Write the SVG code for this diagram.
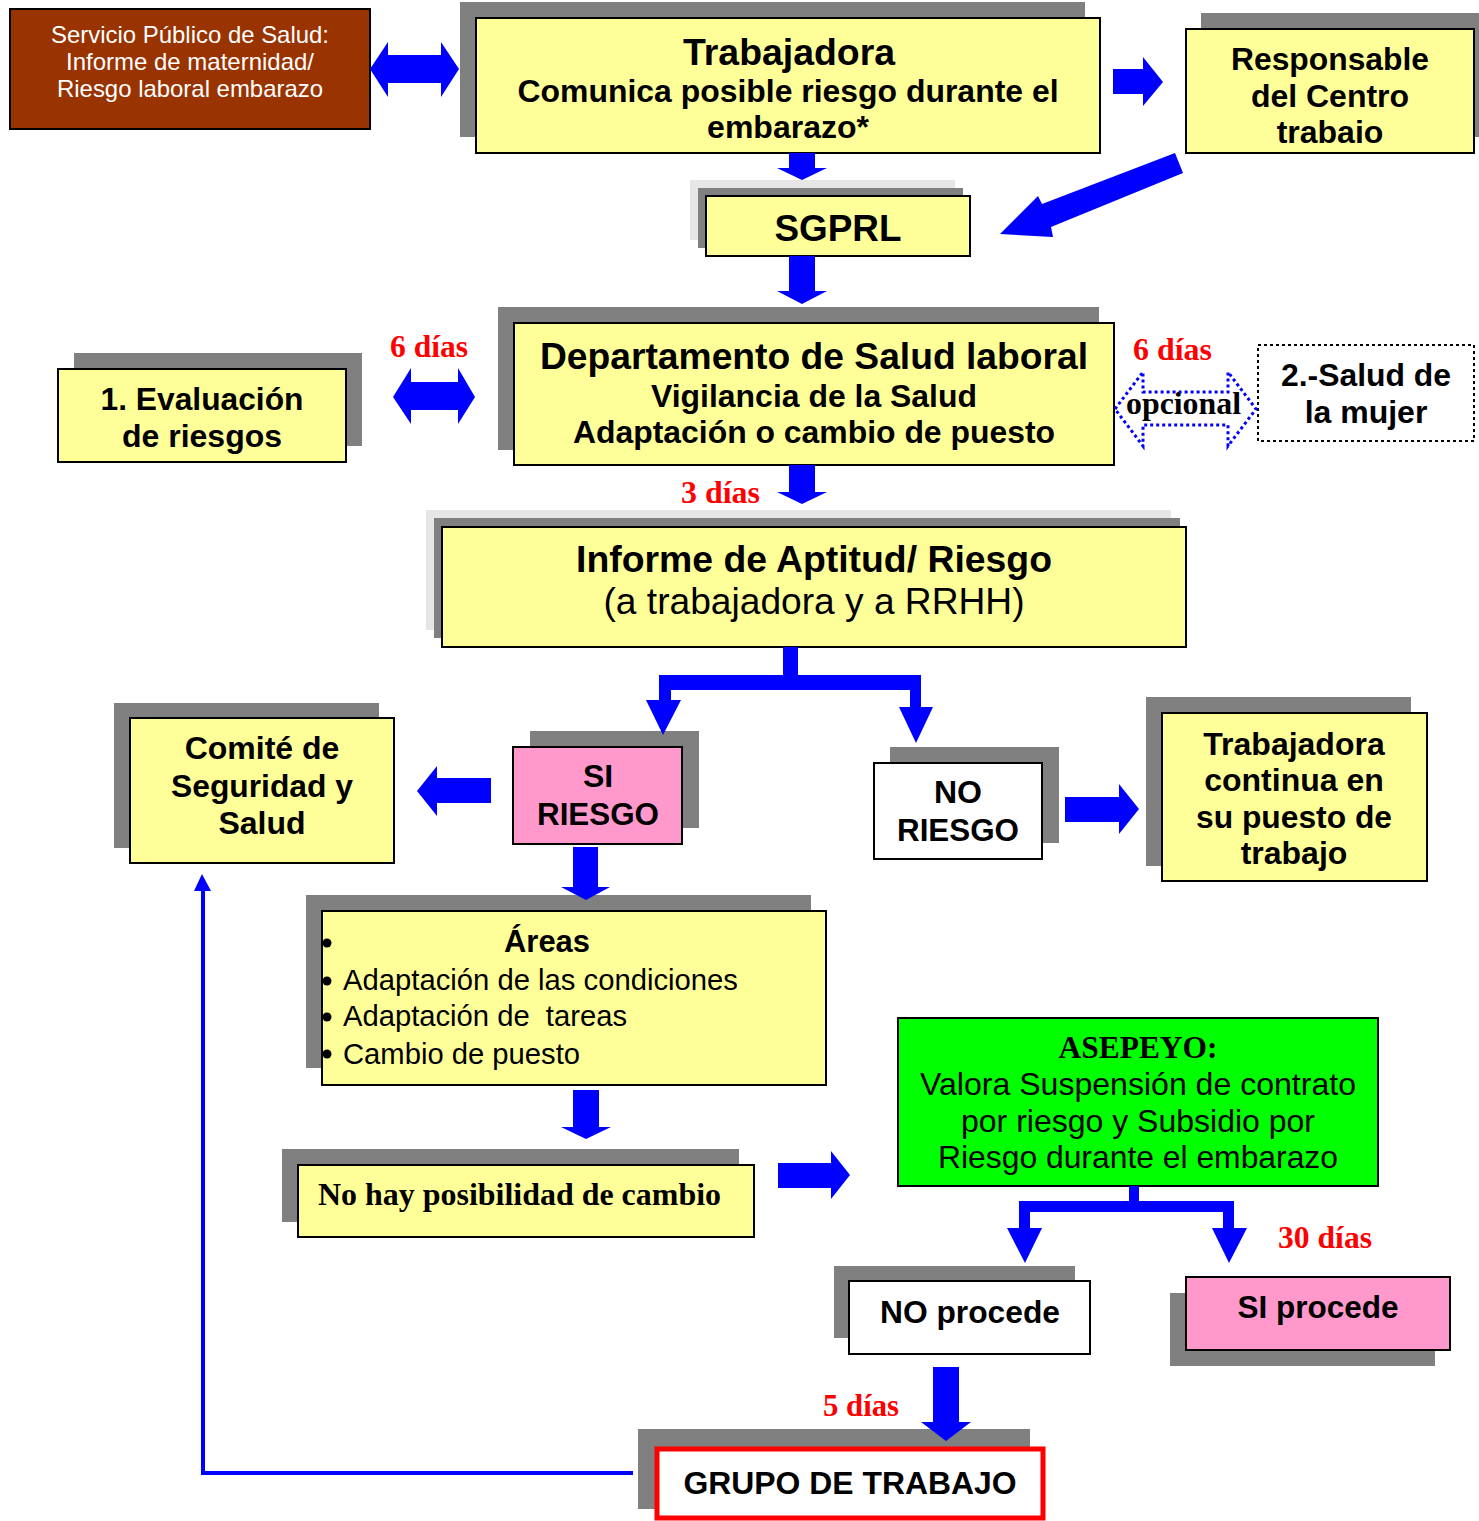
<svg xmlns="http://www.w3.org/2000/svg" width="1479" height="1521" viewBox="0 0 1479 1521">
<style>
.sh{fill:#808080}
.lsh{fill:#e6e6e6}
.y{fill:#FFFF99;stroke:#000;stroke-width:2}
.w{fill:#FFFFFF;stroke:#000;stroke-width:2}
.p{fill:#FF99CC;stroke:#000;stroke-width:2}
.ar{fill:#0000FF}
.b{font-family:"Liberation Sans",Arial,sans-serif;font-weight:bold;text-anchor:middle;fill:#000}
.r{font-family:"Liberation Sans",Arial,sans-serif;font-weight:normal;fill:#000}
.d{font-family:"Liberation Serif","Times New Roman",serif;font-weight:bold;fill:#FF0000;font-size:31px}
.tb{font-family:"Liberation Serif","Times New Roman",serif;font-weight:bold;fill:#000}
</style>
<rect width="1479" height="1521" fill="#FFFFFF"/>

<g id="servicio">
<rect x="10" y="9" width="360" height="120" fill="#993300" stroke="#000" stroke-width="2"/>
<g class="r" font-size="24" text-anchor="middle" style="fill:#FFFFFF">
<text x="190" y="43" textLength="278" lengthAdjust="spacingAndGlyphs">Servicio Público de Salud:</text>
<text x="190" y="70" textLength="248" lengthAdjust="spacingAndGlyphs">Informe de maternidad/</text>
<text x="190" y="97" textLength="266" lengthAdjust="spacingAndGlyphs">Riesgo laboral embarazo</text>
</g>
</g>

<g id="trabajadora">
<rect class="sh" x="460" y="2" width="625" height="135"/>
<rect class="y" x="476" y="18" width="624" height="135"/>
<text class="b" x="789" y="65" font-size="37" textLength="212" lengthAdjust="spacingAndGlyphs">Trabajadora</text>
<text class="b" x="788" y="102" font-size="32" textLength="541" lengthAdjust="spacingAndGlyphs">Comunica posible riesgo durante el</text>
<text class="b" x="788" y="138" font-size="32">embarazo*</text>
</g>

<g id="responsable">
<rect class="sh" x="1201" y="13" width="278" height="124"/>
<rect class="y" x="1186" y="29" width="288" height="124"/>
<g class="b" font-size="32">
<text x="1330" y="70" textLength="198" lengthAdjust="spacingAndGlyphs">Responsable</text>
<text x="1330" y="107">del Centro</text>
<text x="1330" y="143">trabaio</text>
</g>
</g>

<g id="sgprl">
<rect class="lsh" x="690" y="180" width="265" height="60"/>
<rect class="sh" x="698" y="188" width="265" height="60"/>
<rect class="y" x="706" y="196" width="264" height="60"/>
<text class="b" x="838" y="241" font-size="37" textLength="127" lengthAdjust="spacingAndGlyphs">SGPRL</text>
</g>

<g id="departamento">
<rect class="sh" x="498" y="307" width="601" height="143"/>
<rect class="y" x="514" y="323" width="600" height="142"/>
<text class="b" x="814" y="369" font-size="37" textLength="548" lengthAdjust="spacingAndGlyphs">Departamento de Salud laboral</text>
<text class="b" x="814" y="407" font-size="32" textLength="326" lengthAdjust="spacingAndGlyphs">Vigilancia de la Salud</text>
<text class="b" x="814" y="443" font-size="32" textLength="482" lengthAdjust="spacingAndGlyphs">Adaptación o cambio de puesto</text>
</g>

<g id="evaluacion">
<rect class="sh" x="74" y="353" width="288" height="93"/>
<rect class="y" x="58" y="369" width="288" height="93"/>
<g class="b" font-size="32">
<text x="202" y="410" textLength="203" lengthAdjust="spacingAndGlyphs">1. Evaluación</text>
<text x="202" y="447">de riesgos</text>
</g>
</g>

<g id="salud-mujer">
<rect x="1258" y="345" width="216" height="96" fill="#FFFFFF" stroke="#000" stroke-width="2" stroke-dasharray="3 3"/>
<g class="b" font-size="32">
<text x="1366" y="386" textLength="170" lengthAdjust="spacingAndGlyphs">2.-Salud de</text>
<text x="1366" y="423">la mujer</text>
</g>
</g>

<g id="informe">
<rect class="lsh" x="426" y="510" width="745" height="120"/>
<rect class="sh" x="434" y="518" width="746" height="120"/>
<rect class="y" x="442" y="527" width="744" height="120"/>
<text class="b" x="814" y="572" font-size="37" textLength="476" lengthAdjust="spacingAndGlyphs">Informe de Aptitud/ Riesgo</text>
<text class="r" x="814" y="614" font-size="37" text-anchor="middle" textLength="421" lengthAdjust="spacingAndGlyphs">(a trabajadora y a RRHH)</text>
</g>

<g id="comite">
<rect class="sh" x="114" y="703" width="265" height="145"/>
<rect class="y" x="130" y="718" width="264" height="145"/>
<g class="b" font-size="32">
<text x="262" y="759">Comité de</text>
<text x="262" y="797" textLength="182" lengthAdjust="spacingAndGlyphs">Seguridad y</text>
<text x="262" y="834">Salud</text>
</g>
</g>

<g id="si-riesgo">
<rect class="sh" x="530" y="731" width="169" height="97"/>
<rect class="p" x="513" y="747" width="169" height="97"/>
<g class="b" font-size="32">
<text x="598" y="787">SI</text>
<text x="598" y="825" textLength="122" lengthAdjust="spacingAndGlyphs">RIESGO</text>
</g>
</g>

<g id="no-riesgo">
<rect class="sh" x="890" y="747" width="169" height="96"/>
<rect class="w" x="874" y="763" width="168" height="96"/>
<g class="b" font-size="32">
<text x="958" y="803">NO</text>
<text x="958" y="841" textLength="122" lengthAdjust="spacingAndGlyphs">RIESGO</text>
</g>
</g>

<g id="trabajadora-continua">
<rect class="sh" x="1146" y="697" width="265" height="169"/>
<rect class="y" x="1162" y="713" width="265" height="168"/>
<g class="b" font-size="32">
<text x="1294" y="755">Trabajadora</text>
<text x="1294" y="791">continua en</text>
<text x="1294" y="828" textLength="196" lengthAdjust="spacingAndGlyphs">su puesto de</text>
<text x="1294" y="864">trabajo</text>
</g>
</g>

<g id="areas">
<rect class="sh" x="306" y="895" width="505" height="173"/>
<rect class="y" x="322" y="911" width="504" height="174"/>
<text class="b" x="547" y="952" font-size="31" textLength="86" lengthAdjust="spacingAndGlyphs">Áreas</text>
<g fill="#000">
<circle cx="327" cy="943" r="4.5"/>
<circle cx="327" cy="981" r="4.5"/>
<circle cx="327" cy="1017" r="4.5"/>
<circle cx="327" cy="1054" r="4.5"/>
</g>
<g class="r" font-size="29">
<text x="343" y="990" textLength="395" lengthAdjust="spacingAndGlyphs">Adaptación de las condiciones</text>
<text x="343" y="1026" xml:space="preserve" textLength="284" lengthAdjust="spacingAndGlyphs">Adaptación de  tareas</text>
<text x="343" y="1064" textLength="237" lengthAdjust="spacingAndGlyphs">Cambio de puesto</text>
</g>
</g>

<g id="no-hay">
<rect class="sh" x="282" y="1149" width="457" height="73"/>
<rect class="y" x="298" y="1165" width="456" height="72"/>
<text class="tb" x="318" y="1205" font-size="31" textLength="403" lengthAdjust="spacingAndGlyphs">No hay posibilidad de cambio</text>
</g>

<g id="asepeyo">
<rect x="898" y="1018" width="480" height="168" fill="#00FF00" stroke="#000" stroke-width="2"/>
<text class="tb" x="1138" y="1058" font-size="31" text-anchor="middle" textLength="159" lengthAdjust="spacingAndGlyphs">ASEPEYO:</text>
<g class="r" font-size="32" text-anchor="middle">
<text x="1138" y="1095" textLength="436" lengthAdjust="spacingAndGlyphs">Valora Suspensión de contrato</text>
<text x="1138" y="1132" textLength="354" lengthAdjust="spacingAndGlyphs">por riesgo y Subsidio por</text>
<text x="1138" y="1168" textLength="400" lengthAdjust="spacingAndGlyphs">Riesgo durante el embarazo</text>
</g>
</g>

<g id="no-procede">
<rect class="sh" x="834" y="1266" width="241" height="72"/>
<rect class="w" x="849" y="1281" width="241" height="73"/>
<text class="b" x="970" y="1323" font-size="32" textLength="180" lengthAdjust="spacingAndGlyphs">NO procede</text>
</g>

<g id="si-procede">
<rect class="sh" x="1170" y="1293" width="265" height="73"/>
<rect class="p" x="1186" y="1277" width="264" height="73"/>
<text class="b" x="1318" y="1318" font-size="32" textLength="161" lengthAdjust="spacingAndGlyphs">SI procede</text>
</g>

<g id="grupo">
<rect class="sh" x="638" y="1429" width="392" height="80"/>
<rect x="657" y="1449" width="386" height="69" fill="#FFFFFF" stroke="#FF0000" stroke-width="5"/>
<text class="b" x="850" y="1494" font-size="31" textLength="333" lengthAdjust="spacingAndGlyphs">GRUPO DE TRABAJO</text>
</g>

<g id="connectors">
<polygon class="ar" points="370,69 388,42 388,55 441,55 441,42 459,69 441,97 441,83 388,83 388,97"/>
<polygon class="ar" points="1113,69 1143,69 1143,57 1163,82 1143,106 1143,94 1113,94"/>
<polygon class="ar" points="789,153 815,153 815,168 827,168 802,180 777,168 789,168"/>
<polygon class="ar" points="1175,153 1042,204 1038,196 1000,234 1053,237 1051,227 1183,173"/>
<polygon class="ar" points="789,256 815,256 815,291 827,291 802,304 777,291 789,291"/>
<polygon class="ar" points="393,397 411,368 411,382 458,382 458,368 475,397 458,424 458,410 411,410 411,424"/>
<polygon points="1115,409 1143,372 1143,392 1228,392 1228,372 1256,409 1228,446 1228,425 1143,425 1143,446" fill="none" stroke="#0000FF" stroke-width="3" stroke-dasharray="3 3"/>
<polygon class="ar" points="789,465 815,465 815,492 827,492 802,504 777,492 789,492"/>
<path class="ar" d="M783,647 H798 V675 H921 V707 H933 L916,743 L899,707 H910 V690 H671 V700 H681 L663,735 L646,700 H659 V675 H783 Z"/>
<polygon class="ar" points="491,778 491,803 437,803 437,816 417,791 437,766 437,778"/>
<polygon class="ar" points="1065,797 1119,797 1119,784 1139,809 1119,834 1119,822 1065,822"/>
<polygon class="ar" points="573,847 598,847 598,887 610,887 586,900 561,887 573,887"/>
<polygon class="ar" points="573,1090 599,1090 599,1127 611,1127 586,1139 561,1127 573,1127"/>
<polygon class="ar" points="778,1163 831,1163 831,1151 850,1175 831,1199 831,1188 778,1188"/>
<path class="ar" d="M1129,1186 H1139 V1201 H1234 V1228 H1247 L1229,1263 L1212,1228 H1223 V1212 H1030 V1228 H1042 L1025,1263 L1007,1228 H1019 V1201 H1129 Z"/>
<polygon class="ar" points="933,1367 959,1367 959,1422 971,1422 946,1441 921,1422 933,1422"/>
<polyline points="633,1473 203,1473 203,889" fill="none" stroke="#0000FF" stroke-width="4"/>
<polygon class="ar" points="194,891 202,874 211,891"/>
<text class="tb" x="1126" y="414" font-size="31" textLength="115" lengthAdjust="spacingAndGlyphs">opcional</text>
<text class="d" x="390" y="357" textLength="78" lengthAdjust="spacingAndGlyphs">6 días</text>
<text class="d" x="1133" y="360" textLength="79" lengthAdjust="spacingAndGlyphs">6 días</text>
<text class="d" x="681" y="503" textLength="79" lengthAdjust="spacingAndGlyphs">3 días</text>
<text class="d" x="1278" y="1248" textLength="94" lengthAdjust="spacingAndGlyphs">30 días</text>
<text class="d" x="823" y="1416" textLength="76" lengthAdjust="spacingAndGlyphs">5 días</text>
</g>
</svg>
